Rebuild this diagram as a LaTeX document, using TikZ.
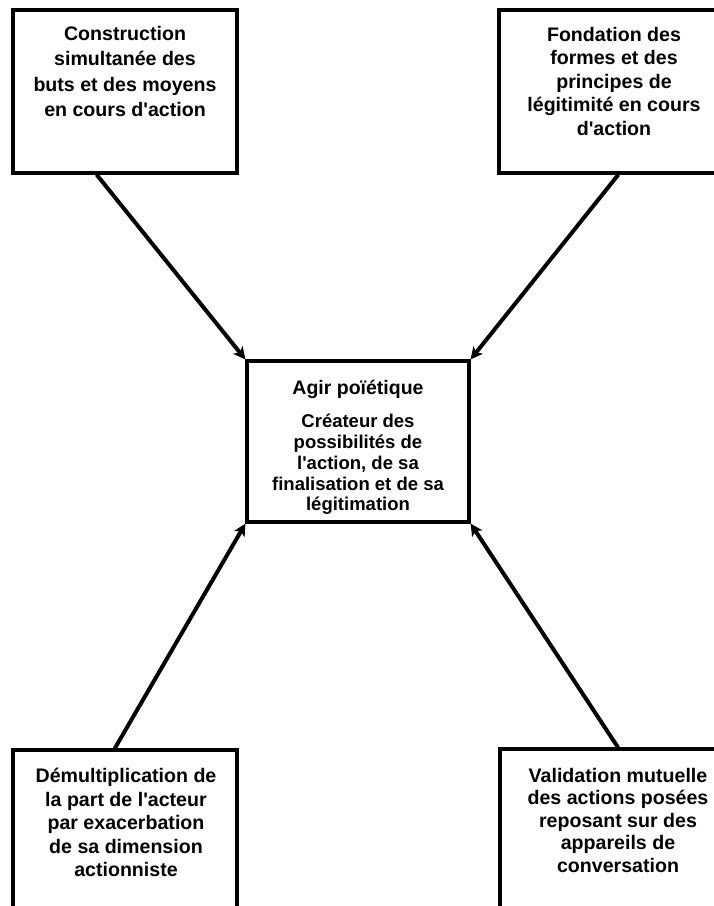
\documentclass[tikz,border=0pt]{standalone}
\usepackage{fontspec}
\setmainfont{Liberation Sans}
\usetikzlibrary{arrows.meta, calc}

\begin{document}
\begin{tikzpicture}[
    x=1pt, y=-1pt,
    box/.style={draw, line width=3.2pt, line join=miter, inner sep=0pt},
    txt/.style={font=\fontsize{19.6}{23.5}\selectfont\bfseries, align=center, anchor=north, inner sep=0pt},
    link/.style={line width=4pt, -{Stealth[length=12pt, width=12pt, inset=3pt]}},
]
\clip (0,0) rectangle (714,906);
\useasboundingbox (0,0) rectangle (714,906);

% central box
\node[box, minimum width=222pt, minimum height=161pt] (agir) at (358,441.5) {};
\node[txt, font=\fontsize{19.5}{21}\selectfont\bfseries] (agirtitle) at (358,380) {Agir poïétique};
\node[txt, font=\fontsize{18.5}{20.8}\selectfont\bfseries] (agirtext) at (358,414) {Créateur des\\possibilités de\\l\textquotesingle action, de sa\\finalisation et de sa\\légitimation};

% four surrounding boxes
\node[box, minimum width=224pt, minimum height=163pt] (buts) at (125,91.5) {};
\node[txt, font=\fontsize{19.6}{25.5}\selectfont\bfseries] (butstext) at (125,26) {Construction\\simultanée des\\buts et des moyens\\en cours d\textquotesingle action};

\node[box, minimum width=225pt, minimum height=163pt] (legit) at (611.5,91.5) {};
\node[txt] (legittext) at (614,27) {Fondation des\\formes et des\\principes de\\légitimité en cours\\d\textquotesingle action};

\node[box, minimum width=224pt, minimum height=170pt] (acteur) at (125,835) {};
\node[txt] (acteurtext) at (126,768) {Démultiplication de\\la part de l\textquotesingle acteur\\par exacerbation\\de sa dimension\\actionniste};

\node[box, minimum width=236pt, minimum height=171pt] (conv) at (618,834.5) {};
\node[txt, font=\fontsize{19.6}{22.5}\selectfont\bfseries] (convtext) at (618,768) {Validation mutuelle\\des actions posées\\reposant sur des\\appareils de\\conversation};

% arrow starts on the outer boxes
\coordinate (butsout) at ($(buts.south west)!0.375!(buts.south east)$);
\coordinate (legitout) at ($(legit.south west)!0.53!(legit.south east)$);
\coordinate (acteurout) at ($(acteur.north west)!0.455!(acteur.north east)$);
\coordinate (convout) at ($(conv.north west)!0.5!(conv.north east)$);

\draw[link] (butsout) -- (agir.north west);
\draw[link] (legitout) -- (agir.north east);
\draw[link] (acteurout) -- (agir.south west);
\draw[link] (convout) -- (agir.south east);

\end{tikzpicture}
\end{document}
